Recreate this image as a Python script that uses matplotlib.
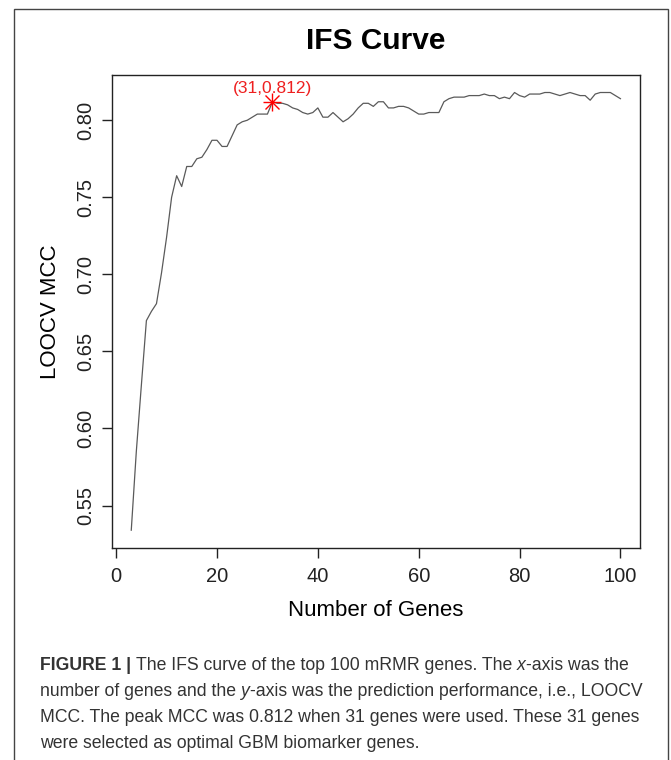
import numpy as np
import matplotlib
matplotlib.use("Agg")
import matplotlib.pyplot as plt
from matplotlib.patches import Rectangle

plt.rcParams['font.family'] = ['Liberation Sans', 'DejaVu Sans']

# IFS curve data (number of genes vs LOOCV MCC)
n_genes = list(range(3, 101))
mcc = [0.534, 0.585, 0.628, 0.670, 0.676, 0.681, 0.701, 0.724, 0.750, 0.764,
       0.757, 0.770, 0.770, 0.775, 0.776, 0.781, 0.787, 0.787, 0.783, 0.783,
       0.790, 0.797, 0.799, 0.800, 0.802, 0.804, 0.804, 0.804, 0.812, 0.811,
       0.811, 0.810, 0.808, 0.807, 0.805, 0.804, 0.805, 0.808, 0.802, 0.802,
       0.805, 0.802, 0.799, 0.801, 0.804, 0.808, 0.811, 0.811, 0.809, 0.812,
       0.812, 0.808, 0.808, 0.809, 0.809, 0.808, 0.806, 0.804, 0.804, 0.805,
       0.805, 0.805, 0.812, 0.814, 0.815, 0.815, 0.815, 0.816, 0.816, 0.816,
       0.817, 0.816, 0.816, 0.814, 0.815, 0.814, 0.818, 0.816, 0.815, 0.817,
       0.817, 0.817, 0.818, 0.818, 0.817, 0.816, 0.817, 0.818, 0.817, 0.816,
       0.816, 0.813, 0.817, 0.818, 0.818, 0.818, 0.816, 0.814]
peak_x = 31
peak_y = 0.812
x_ticks = [0, 20, 40, 60, 80, 100]
y_ticks = [0.55, 0.60, 0.65, 0.70, 0.75, 0.80]

W, H = 671, 760
fig = plt.figure(figsize=(W / 100, H / 100), dpi=100)
ax = fig.add_axes([111.7 / W, 1 - 547.7 / H, (640 - 111.7) / W, (547.7 - 75) / H])

ax.plot(n_genes, mcc, color='#5a5a5a', lw=0.9)
ax.margins(x=0.04, y=0.04)
# peak marker, R style asterisk (pch=8)
ax.plot(peak_x, peak_y, marker='+', ms=13, mew=1.0, color='red', ls='none')
ax.plot(peak_x, peak_y, marker='x', ms=9.5, mew=1.0, color='red', ls='none')
ax.annotate('(%d,%.3f)' % (peak_x, peak_y), (peak_x, peak_y), xytext=(0, 4),
            textcoords='offset points', ha='center', va='bottom',
            color='#ee2020', fontsize=12.5)

ax.set_xticks(x_ticks)
ax.set_yticks(y_ticks)
ax.set_yticklabels(['%.2f' % v for v in y_ticks], rotation=90, va='center')
ax.tick_params(direction='out', length=7, width=1, labelsize=14.5, colors='#222222')
ax.tick_params(axis='x', pad=7)
ax.tick_params(axis='y', pad=5)
for s in ax.spines.values():
    s.set_linewidth(1)
    s.set_color('#222222')

ax.set_xlabel('Number of Genes', fontsize=16, labelpad=10)
ax.set_ylabel('LOOCV MCC', fontsize=16, labelpad=11)
fig.text((111.7 + 640) / 2 / W, 1 - 41 / H, 'IFS Curve', ha='center', va='center',
         fontsize=21.5, fontweight='bold')

# frame around the figure + caption
fig.patches.append(Rectangle((14 / W, -0.01), (668 - 14) / W, 1.01 - 9 / H,
                             transform=fig.transFigure, fill=False,
                             edgecolor='#444444', lw=1))

fig.canvas.draw()
renderer = fig.canvas.get_renderer()
cap_size = 12.7
cap_col = '#333333'


def text_w(s, **kw):
    t = fig.text(0, 0, s, fontsize=cap_size, **kw)
    w = t.get_window_extent(renderer).width
    t.remove()
    return w


space_w = text_w('a a') - text_w('aa')

caption = [
    [('FIGURE 1 |', {'fontweight': 'bold'}),
     (' The IFS curve of the top 100 mRMR genes. The ', {}),
     ('x', {'style': 'italic'}), ('-axis was the', {})],
    [('number of genes and the ', {}), ('y', {'style': 'italic'}),
     ('-axis was the prediction performance, i.e., LOOCV', {})],
    [('MCC. The peak MCC was 0.812 when 31 genes were used. These 31 genes', {})],
    [('were selected as optimal GBM biomarker genes.', {})],
]
for i, line in enumerate(caption):
    y = 1 - (665 + 26 * i) / H
    x = 40.0
    for txt, kw in line:
        x += (len(txt) - len(txt.lstrip(' '))) * space_w
        core = txt.strip(' ')
        t = fig.text(x / W, y, core, fontsize=cap_size, color=cap_col,
                     va='center', **kw)
        x += t.get_window_extent(renderer).width
        x += (len(txt) - len(txt.rstrip(' '))) * space_w

fig.savefig('out.png', dpi=100)
